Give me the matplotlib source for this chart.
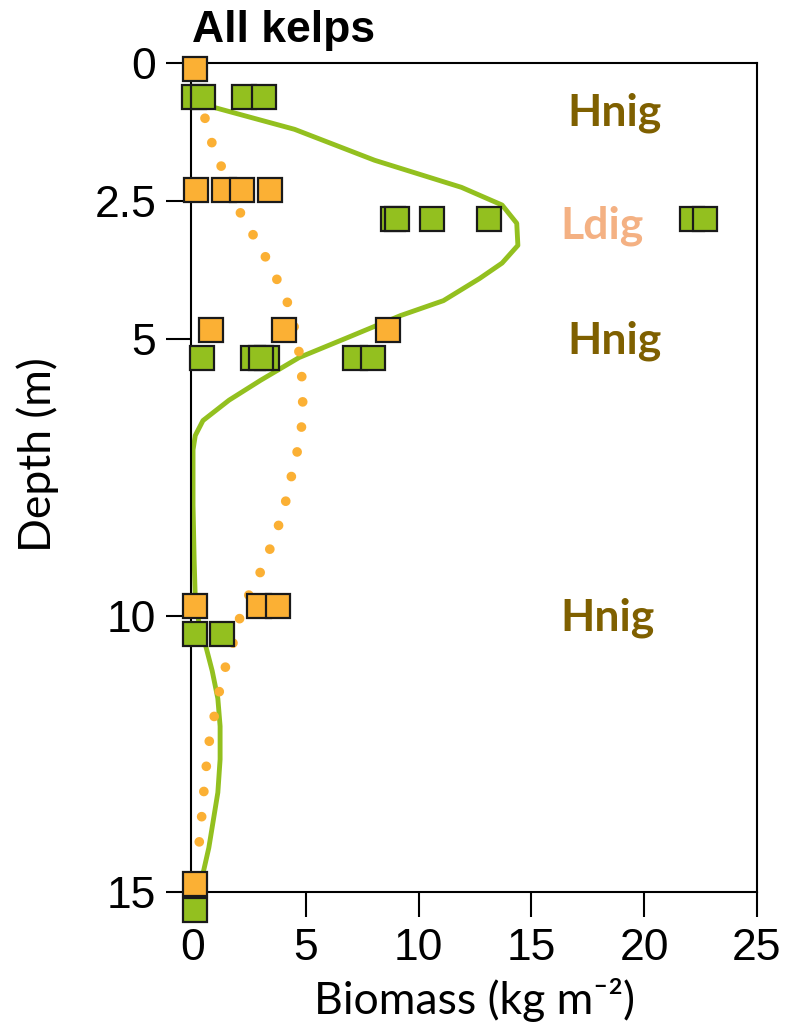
import matplotlib
matplotlib.use("Agg")
import matplotlib.pyplot as plt

# ---- data ----
orange_x = [0.1, 0.13, 1.37, 2.17, 3.41, 0.79, 4.05, 8.66, 0.1, 2.93, 3.78, 0.1]
orange_d = [0.1, 2.3, 2.3, 2.3, 2.3, 4.83, 4.83, 4.83, 9.83, 9.83, 9.83, 14.85]

green_x = [0.06, 0.46, 2.28, 3.13,
           8.85, 9.05, 10.6, 13.1, 22.1, 22.7,
           0.38, 2.66, 3.27, 3.03, 7.17, 7.99,
           0.1, 1.27, 0.1]
green_d = [0.62, 0.62, 0.62, 0.62,
           2.82, 2.82, 2.82, 2.82, 2.82, 2.82,
           5.33, 5.33, 5.33, 5.33, 5.33, 5.33,
           10.33, 10.33, 15.33]

green_curve_d = [0.8, 1.2, 1.76, 2.25, 2.57, 2.9, 3.3, 3.62, 3.9, 4.3, 4.57, 4.96,
                 5.33, 5.74, 6.1, 6.47, 6.74, 7.0, 8.0, 9.0, 9.7, 10.1, 10.45, 11.0,
                 11.5, 12.0, 12.6, 13.2, 13.7, 14.2, 14.65]
green_curve_x = [0.9, 4.5, 8.05, 11.9, 13.7, 14.35, 14.4, 13.7, 12.7, 11.1, 9.2, 6.9,
                 4.7, 3.0, 1.6, 0.44, 0.1, 0.0, 0.0, 0.05, 0.1, 0.25, 0.5, 0.85,
                 1.1, 1.2, 1.2, 1.1, 0.9, 0.7, 0.45]

orange_curve_d = [1.0, 1.45, 1.9, 2.4, 2.8, 3.1, 3.5, 3.9, 4.3, 4.8, 5.3, 5.8, 6.4,
                  6.9, 7.3, 7.8, 8.3, 8.7, 9.2, 9.6, 10.0, 10.6, 11.1, 11.5, 12.0,
                  12.4, 12.9, 13.3, 13.8, 14.2]
orange_curve_x = [0.53, 0.84, 1.28, 1.75, 2.2, 2.65, 3.2, 3.7, 4.16, 4.5, 4.73, 4.85,
                  4.87, 4.7, 4.45, 4.2, 3.85, 3.5, 3.0, 2.5, 2.1, 1.7, 1.3, 1.1, 0.85,
                  0.66, 0.55, 0.45, 0.35, 0.25]

labels = ["Hnig", "Ldig", "Hnig", "Hnig"]
label_x = [18.67, 18.14, 18.67, 18.36]
label_d = [0.9, 2.95, 5.02, 10.04]
label_colors = ["#7F6000", "#F4B183", "#7F6000", "#7F6000"]

xticks = [0, 5, 10, 15, 20, 25]
yticks = [0, 2.5, 5, 10, 15]
ytick_labels = ["0", "2.5", "5", "10", "15"]

# ---- figure ----
fig = plt.figure(figsize=(7.9, 10.32), dpi=100)
ax = fig.add_axes([191/790, 1-892/1032, (757-191)/790, (892-63)/1032])

ORANGE = "#FBB034"
GREEN = "#93C01F"

ax.plot(green_curve_x, green_curve_d, color=GREEN, lw=3.5, zorder=2,
        solid_capstyle="round", solid_joinstyle="round")
ax.plot(orange_curve_x, orange_curve_d, color=ORANGE, lw=7.0, zorder=2.2,
        linestyle=(0, (0.001, 2.6)), dash_capstyle="round")

for x, d in zip(orange_x, orange_d):
    ax.plot([x], [d], marker="s", ms=17.5, mfc=ORANGE, mec="#1a1a1a", mew=1.6,
            ls="none", zorder=4, clip_on=False)
for x, d in zip(green_x, green_d):
    ax.plot([x], [d], marker="s", ms=17.5, mfc=GREEN, mec="#1a1a1a", mew=1.6,
            ls="none", zorder=4, clip_on=False)

for t, x, d, c in zip(labels, label_x, label_d, label_colors):
    ax.text(x, d, t, color=c, fontsize=32, fontweight="bold", family="Lato",
            ha="center", va="center")

ax.set_xlim(-0.09, 25)
ax.set_ylim(15, 0)
ax.set_xticks(xticks)
ax.set_xticklabels([str(v) for v in xticks])
ax.set_yticks(yticks)
ax.set_yticklabels(ytick_labels)
ax.tick_params(axis="both", direction="out", length=18, width=1.5, labelsize=32,
               colors="black")
ax.tick_params(axis="x", pad=8)
ax.tick_params(axis="y", pad=7)
for lab in ax.get_xticklabels() + ax.get_yticklabels():
    lab.set_family("Liberation Sans")
for s in ax.spines.values():
    s.set_linewidth(1.5)

ax.annotate("All kelps", xy=(0, 1), xycoords="axes fraction", xytext=(1, 15),
            textcoords="offset points", ha="left", va="baseline",
            fontsize=32, fontweight="bold", family="Liberation Sans")

fig.text(474/790, 1-1000/1032, "Biomass (kg m\u207b\u00b2)", ha="center", va="center",
         fontsize=32, family=["Lato", "DejaVu Sans"])
fig.text(38/790, 1-455/1032, "Depth (m)", ha="center", va="center", rotation=90,
         fontsize=32, family=["Lato", "DejaVu Sans"])

fig.savefig("out.png", dpi=100)
